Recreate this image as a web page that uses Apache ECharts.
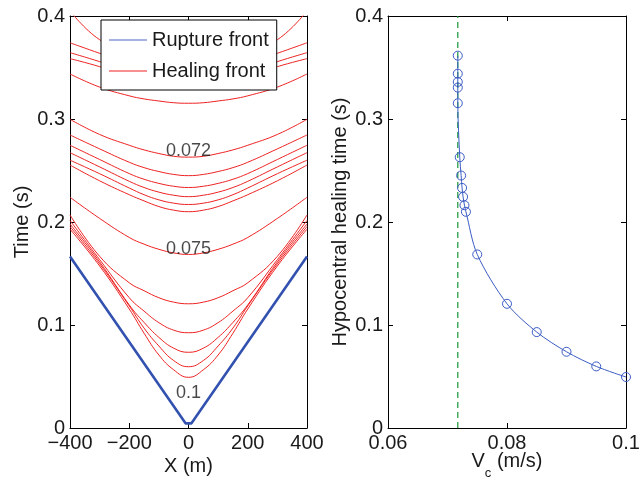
<!DOCTYPE html>
<html><head><meta charset="utf-8">
<script src="https://cdn.jsdelivr.net/npm/echarts@6/dist/echarts.min.js"></script>
<style>html,body{margin:0;padding:0;background:#fff}#c{width:639px;height:478px}</style>
</head><body><div id="c"></div>
<script>
// ---- Left panel data: healing fronts t(x) read at these positions (m) ----
const xPositions = [-400, -300, -200, -150, -100, -50, 0, 50, 100, 150, 200, 300, 400];
const healC1  = [0.405, 0.377, 0.367, 0.364, 0.3625, 0.3618, 0.3615, 0.3618, 0.3625, 0.364, 0.367, 0.377, 0.405];
const healC2  = [0.374, 0.3638, 0.354, 0.3505, 0.3475, 0.3448, 0.344, 0.3448, 0.3475, 0.3505, 0.354, 0.3638, 0.374];
const healC3  = [0.3644, 0.3557, 0.346, 0.3423, 0.339, 0.3368, 0.336, 0.3368, 0.339, 0.3423, 0.346, 0.3557, 0.3644];
const healC4  = [0.3586, 0.3508, 0.341, 0.3372, 0.334, 0.3313, 0.3305, 0.3313, 0.334, 0.3372, 0.341, 0.3508, 0.3586];
const healC5  = [0.3437, 0.331, 0.3225, 0.3195, 0.3175, 0.3158, 0.3153, 0.3158, 0.3175, 0.3195, 0.3225, 0.331, 0.3437];
const healC6  = [0.2997, 0.285, 0.2745, 0.270, 0.2665, 0.2638, 0.263, 0.2638, 0.2665, 0.270, 0.2745, 0.285, 0.2997];
const healC7  = [0.2845, 0.271, 0.258, 0.2528, 0.249, 0.2462, 0.245, 0.2462, 0.249, 0.2528, 0.258, 0.271, 0.2845];
const healC8  = [0.2745, 0.2607, 0.247, 0.2415, 0.2375, 0.2347, 0.2335, 0.2347, 0.2375, 0.2415, 0.247, 0.2607, 0.2745];
const healC9  = [0.2673, 0.2535, 0.2395, 0.2335, 0.229, 0.226, 0.2246, 0.226, 0.229, 0.2335, 0.2395, 0.2535, 0.2673];
const healC10 = [0.260, 0.2469, 0.233, 0.2265, 0.2215, 0.2183, 0.217, 0.2183, 0.2215, 0.2265, 0.233, 0.2469, 0.260];
const healC11 = [0.2553, 0.240, 0.2265, 0.2205, 0.215, 0.2115, 0.210, 0.2115, 0.215, 0.2205, 0.2265, 0.240, 0.2553];
const healC12 = [0.224, 0.2035, 0.185, 0.1785, 0.1735, 0.170, 0.1685, 0.170, 0.1735, 0.1785, 0.185, 0.2035, 0.224];
const healC13 = [0.2068, 0.1667, 0.141, 0.1333, 0.1265, 0.1222, 0.1206, 0.1222, 0.1265, 0.1333, 0.141, 0.1667, 0.2068];
const healC14 = [0.2015, 0.1635, 0.1265, 0.1135, 0.1023, 0.095, 0.0925, 0.095, 0.1023, 0.1135, 0.1265, 0.1635, 0.2015];
const healC15 = [0.198, 0.1613, 0.1195, 0.1025, 0.088, 0.0775, 0.0735, 0.0775, 0.088, 0.1025, 0.1195, 0.1613, 0.198];
const healC16 = [0.1955, 0.1594, 0.1185, 0.097, 0.0796, 0.0655, 0.0595, 0.0655, 0.0796, 0.097, 0.1185, 0.1594, 0.1955];
const healC17 = [0.193, 0.1573, 0.1155, 0.092, 0.0709, 0.0565, 0.0492, 0.0565, 0.0709, 0.092, 0.1155, 0.1573, 0.193];
const healingFronts = [healC1, healC2, healC3, healC4, healC5, healC6, healC7, healC8, healC9,
  healC10, healC11, healC12, healC13, healC14, healC15, healC16, healC17];

const ruptureX = [-400, -10, 10, 400];
const ruptureT = [0.1665, 0.0045, 0.0045, 0.1665];

const contourLabels = ['0.072', '0.075', '0.1'];
const contourLabelX = [0, 0, 0];
const contourLabelT = [0.2685, 0.1742, 0.0337];

// ---- Right panel data ----
const vcValues  = [0.1, 0.095, 0.09, 0.085, 0.08, 0.075, 0.0731, 0.07285, 0.07262, 0.07245, 0.07229, 0.07206, 0.07173, 0.07173, 0.07173, 0.07173, 0.07173];
const healTimes = [0.0495, 0.0598, 0.0740, 0.0931, 0.1206, 0.1685, 0.2099, 0.2163, 0.2244, 0.2331, 0.2451, 0.2629, 0.3153, 0.3305, 0.336, 0.344, 0.3615];
const vcCritical = 0.07173;
const criticalLineT = [0, 0.4];

const FONT = 'Liberation Sans, Arial, Helvetica, sans-serif';
const TXT = '#1a1a1a';
const RED = '#ee2222';
const BLUE = '#3352b0';
const BLUE2 = '#3b5cc4';
const GREEN = '#17963a';

function axisBase(extra) {
  return Object.assign({
    type: 'value',
    nameMoveOverlap: false,
    axisLine: { show: true, onZero: false, lineStyle: { color: '#000', width: 1 } },
    axisTick: { show: true, inside: true, length: 5, lineStyle: { color: '#000', width: 1 } },
    splitLine: { show: false },
    axisLabel: { show: true, fontSize: 20, fontFamily: FONT, color: TXT, margin: 5 },
    nameTextStyle: { fontSize: 20, fontFamily: FONT, color: TXT }
  }, extra);
}
function hidden(extra) {
  const a = axisBase(extra);
  a.axisLabel = { show: false };
  return a;
}

const series = [];
series.push({
  type: 'line', name: 'Rupture front', xAxisIndex: 0, yAxisIndex: 0,
  data: ruptureX.map((x, i) => [x, ruptureT[i]]),
  symbol: 'none', lineStyle: { color: BLUE, width: 2.6 }, itemStyle: { color: '#4a68c8' }, z: 3
});
healingFronts.forEach(vals => {
  series.push({
    type: 'line', name: 'Healing front', xAxisIndex: 0, yAxisIndex: 0,
    data: xPositions.map((x, i) => [x, vals[i]]),
    smooth: 0.45, symbol: 'none', clip: true,
    lineStyle: { color: RED, width: 1 }, itemStyle: { color: RED }, z: 2
  });
});
series.push({
  type: 'scatter', name: 'labels', xAxisIndex: 0, yAxisIndex: 0, silent: true,
  symbol: 'circle', symbolSize: 1, itemStyle: { color: 'rgba(0,0,0,0)' },
  data: contourLabelX.map((x, i) => ({
    value: [x, contourLabelT[i]],
    label: { show: true, position: 'inside', formatter: contourLabels[i], fontSize: 18, fontFamily: FONT, color: TXT }
  })), z: 5
});
series.push({
  type: 'line', name: 'critical', xAxisIndex: 2, yAxisIndex: 2, silent: true,
  data: criticalLineT.map(t => [vcCritical, t]), symbol: 'none',
  lineStyle: { color: GREEN, width: 1.2, type: [6, 4] }, z: 1
});
series.push({
  type: 'line', name: 'healtime', xAxisIndex: 2, yAxisIndex: 2,
  data: vcValues.map((v, i) => [v, healTimes[i]]),
  smooth: 0.3, symbol: 'circle', symbolSize: 9, showSymbol: true,
  itemStyle: { color: 'rgba(0,0,0,0)', borderColor: BLUE2, borderWidth: 1 },
  lineStyle: { color: BLUE2, width: 1 }, z: 3
});

const option = {
  animation: false,
  backgroundColor: '#fff',
  grid: [
    { left: 70, top: 16, width: 237, height: 412, outerBoundsMode: 'none', containLabel: false },
    { left: 388, top: 16, width: 238, height: 412, outerBoundsMode: 'none', containLabel: false }
  ],
  legend: {
    data: [{ name: 'Rupture front', icon: 'rect' }, { name: 'Healing front', icon: 'rect' }],
    orient: 'vertical', left: 101, top: 20,
    backgroundColor: '#fff', borderColor: '#000', borderWidth: 1,
    padding: [10, 8, 9, 8], itemGap: 11, itemWidth: 38, itemHeight: 1,
    textStyle: { fontSize: 20, fontFamily: FONT, color: TXT, lineHeight: 20 },
    selectedMode: false, z: 10
  },
  xAxis: [
    axisBase({ gridIndex: 0, position: 'bottom', min: -400, max: 400, interval: 200,
      name: 'X (m)', nameLocation: 'middle', nameGap: 28,
      axisLabel: { show: true, fontSize: 20, fontFamily: FONT, color: TXT, margin: 5,
        formatter: v => v < 0 ? '\u2212' + Math.abs(v) : String(v) } }),
    hidden({ gridIndex: 0, position: 'top', min: -400, max: 400, interval: 200 }),
    axisBase({ gridIndex: 1, position: 'bottom', min: 0.06, max: 0.1, interval: 0.02,
      name: '{v|V}{s|c}{v| (m/s)}', nameLocation: 'middle', nameGap: 30,
      nameTextStyle: { fontSize: 20, fontFamily: FONT, color: TXT,
        rich: {
          v: { fontSize: 20, fontFamily: FONT, color: TXT, lineHeight: 22, padding: [0, 0, 9, 0], verticalAlign: 'bottom' },
          s: { fontSize: 13, fontFamily: FONT, color: TXT, lineHeight: 13, verticalAlign: 'bottom' }
        } },
      axisLabel: { show: true, fontSize: 20, fontFamily: FONT, color: TXT, margin: 5,
        formatter: v => String(+v.toFixed(2)) } }),
    hidden({ gridIndex: 1, position: 'top', min: 0.06, max: 0.1, interval: 0.02 })
  ],
  yAxis: [
    axisBase({ gridIndex: 0, position: 'left', min: 0, max: 0.4, interval: 0.1,
      name: 'Time (s)', nameLocation: 'middle', nameGap: 38,
      axisLabel: { show: true, fontSize: 20, fontFamily: FONT, color: TXT, margin: 5,
        formatter: v => String(+v.toFixed(1)) } }),
    hidden({ gridIndex: 0, position: 'right', min: 0, max: 0.4, interval: 0.1 }),
    axisBase({ gridIndex: 1, position: 'left', min: 0, max: 0.4, interval: 0.1,
      name: 'Hypocentral healing time (s)', nameLocation: 'middle', nameGap: 38,
      axisLabel: { show: true, fontSize: 20, fontFamily: FONT, color: TXT, margin: 5,
        formatter: v => String(+v.toFixed(1)) } }),
    hidden({ gridIndex: 1, position: 'right', min: 0, max: 0.4, interval: 0.1 })
  ],
  series: series
};
const chart = echarts.init(document.getElementById('c'), null, { renderer: 'canvas' });
chart.setOption(option);
</script>
</body></html>
